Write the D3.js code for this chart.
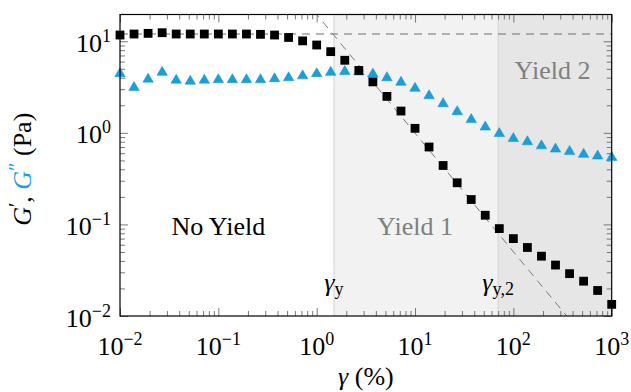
<!DOCTYPE html>
<html>
<head>
<meta charset="utf-8">
<script src="https://cdn.jsdelivr.net/npm/d3@7"></script>
<style>
  html, body { margin: 0; padding: 0; background: #fff; }
  svg { display: block; }
  text { font-family: "Liberation Serif", "Times New Roman", serif; }
</style>
</head>
<body>
<svg id="chart" width="631" height="392"></svg>
<script>
// ---- data ----
const strain = [0.01, 0.01389, 0.01931, 0.02683, 0.03728, 0.05179, 0.07197,
  0.1, 0.1389, 0.1931, 0.2683, 0.3728, 0.5179, 0.7197,
  1, 1.389, 1.931, 2.683, 3.728, 5.179, 7.197,
  10, 13.89, 19.31, 26.83, 37.28, 51.79, 71.97,
  100, 138.9, 193.1, 268.3, 372.8, 517.9, 719.7, 1000];
const storageModulus = [11.7, 12.0, 12.2, 12.4, 12.0, 12.0, 12.0,
  12.0, 12.0, 12.0, 11.9, 11.7, 11.0, 10.1,
  9.1, 7.7, 6.2, 4.8, 3.6, 2.5, 1.73,
  1.12, 0.70, 0.44, 0.285, 0.187, 0.126, 0.090,
  0.070, 0.056, 0.045, 0.036, 0.029, 0.024, 0.019, 0.0134];
const lossModulus = [4.6, 3.25, 4.0, 4.75, 3.9, 3.8, 3.9,
  3.95, 3.95, 3.95, 3.95, 4.05, 4.15, 4.35,
  4.6, 4.75, 4.85, 4.8, 4.55, 4.15, 3.7,
  3.18, 2.64, 2.16, 1.77, 1.45, 1.20, 1.02,
  0.90, 0.83, 0.75, 0.69, 0.65, 0.605, 0.58, 0.56];
const xTickValues = [1e-2, 1e-1, 1e0, 1e1, 1e2, 1e3];
const xTickExponents = ["\u22122", "\u22121", "0", "1", "2", "3"];
const yTickValues = [1e-2, 1e-1, 1e0, 1e1];
const yTickExponents = ["\u22122", "\u22121", "0", "1"];
const plateauModulus = 12;        // horizontal dashed guide (Pa)
const flowPrefactor = 19.6;       // power-law guide G = A * gamma^n
const flowExponent = -1.295;
const yieldStrain1 = 1.5;         // gamma_y (%)
const yieldStrain2 = 70;          // gamma_y,2 (%)
const regionLabels = [
  { text: "No Yield", x: 0.1, y: 0.077, color: "#000" },
  { text: "Yield 1", x: 10, y: 0.077, color: "#808080" },
  { text: "Yield 2", x: 250, y: 3.9, color: "#808080" }
];

// ---- layout ----
const pL = 120, pR = 611.7, pT = 14.5, pB = 316;
const blue = "#1a9fdc";

const svg = d3.select("#chart");
const x = d3.scaleLog().domain([1e-2, 1e3]).range([pL, pR]);
const y = d3.scaleLog().domain([1e-2, 19.6]).range([pB, pT]);

svg.append("defs").append("clipPath").attr("id", "plotclip")
  .append("rect").attr("x", pL).attr("y", pT)
  .attr("width", pR - pL).attr("height", pB - pT);

// shaded yield regions
svg.append("rect").attr("x", x(yieldStrain1)).attr("y", pT)
  .attr("width", x(yieldStrain2) - x(yieldStrain1)).attr("height", pB - pT)
  .attr("fill", "#f2f2f2");
svg.append("rect").attr("x", x(yieldStrain2)).attr("y", pT)
  .attr("width", pR - x(yieldStrain2)).attr("height", pB - pT)
  .attr("fill", "#e6e6e6");
[yieldStrain1, yieldStrain2].forEach(v => {
  svg.append("line").attr("x1", x(v)).attr("x2", x(v)).attr("y1", pT).attr("y2", pB)
    .attr("stroke", "#d2d2d2").attr("stroke-width", 1);
});

// ticks (inside, all four sides)
function minorTicks(domain) {
  const out = [];
  const lo = Math.floor(Math.log10(domain[0]) + 1e-9), hi = Math.ceil(Math.log10(domain[1]));
  for (let e = lo; e < hi; e++) for (let m = 2; m <= 9; m++) {
    const v = m * Math.pow(10, e);
    if (v >= domain[0] && v <= domain[1]) out.push(v);
  }
  return out;
}
const xMinor = minorTicks(x.domain());
const yMinor = minorTicks(y.domain());
const tickStyle = g => {
  g.select(".domain").remove();
  g.selectAll("text").remove();
  g.selectAll("line").attr("stroke", "#6a6a6a").attr("stroke-width", 0.9);
};
const majLen = 8, minLen = 5;
[[xTickValues, majLen], [xMinor, minLen]].forEach(([vals, len]) => {
  svg.append("g").attr("transform", `translate(0,${pB})`)
    .call(d3.axisBottom(x).tickValues(vals).tickSize(-len).tickFormat("")).call(tickStyle);
  svg.append("g").attr("transform", `translate(0,${pT})`)
    .call(d3.axisTop(x).tickValues(vals).tickSize(-len).tickFormat("")).call(tickStyle);
});
[[yTickValues, majLen], [yMinor, minLen]].forEach(([vals, len]) => {
  svg.append("g").attr("transform", `translate(${pL},0)`)
    .call(d3.axisLeft(y).tickValues(vals).tickSize(-len).tickFormat("")).call(tickStyle);
  svg.append("g").attr("transform", `translate(${pR},0)`)
    .call(d3.axisRight(y).tickValues(vals).tickSize(-len).tickFormat("")).call(tickStyle);
});

// guide lines
const guides = svg.append("g").attr("clip-path", "url(#plotclip)");
guides.append("line")
  .attr("x1", pL).attr("x2", pR).attr("y1", y(plateauModulus)).attr("y2", y(plateauModulus))
  .attr("stroke", "#6e6e6e").attr("stroke-width", 1).attr("stroke-dasharray", "8,6");
const gLo = 0.5, gHi = 1000;
guides.append("line")
  .attr("x1", x(gLo)).attr("y1", y(flowPrefactor * Math.pow(gLo, flowExponent)))
  .attr("x2", x(gHi)).attr("y2", y(flowPrefactor * Math.pow(gHi, flowExponent)))
  .attr("stroke", "#6e6e6e").attr("stroke-width", 0.9).attr("stroke-dasharray", "8,6");

// region labels
regionLabels.forEach(r => {
  svg.append("text").attr("x", x(r.x)).attr("y", y(r.y))
    .attr("text-anchor", "middle").attr("font-size", 26).attr("fill", r.color).text(r.text);
});

// gamma_y labels
function gammaLabel(v, sub) {
  const t = svg.append("text").attr("x", x(v)).attr("y", 291)
    .attr("text-anchor", "middle").attr("font-size", 26).attr("fill", "#000");
  t.append("tspan").attr("font-style", "italic").text("\u03b3");
  t.append("tspan").attr("font-size", 18).attr("dy", 4).text(sub);
}
gammaLabel(yieldStrain1, "y");
gammaLabel(yieldStrain2, "y,2");

// data markers
const triSize = 10.5, triH = 9;
const tri = `M0,${-triH / 2} L${triSize / 2},${triH / 2} L${-triSize / 2},${triH / 2} Z`;
svg.append("g").selectAll("path").data(strain.map((s, i) => [s, lossModulus[i]]))
  .join("path")
  .attr("transform", d => `translate(${x(d[0])},${y(d[1])})`)
  .attr("d", tri).attr("fill", blue).attr("stroke", "#1590c6").attr("stroke-width", 0.5);
const sq = 8.8;
svg.append("g").selectAll("rect").data(strain.map((s, i) => [s, storageModulus[i]]))
  .join("rect")
  .attr("x", d => x(d[0]) - sq / 2).attr("y", d => y(d[1]) - sq / 2)
  .attr("width", sq).attr("height", sq).attr("fill", "#000");

// frame
svg.append("rect").attr("x", pL).attr("y", pT).attr("width", pR - pL).attr("height", pB - pT)
  .attr("fill", "none").attr("stroke", "#000").attr("stroke-width", 1.2);

// tick labels
xTickValues.forEach((v, i) => {
  const t = svg.append("text").attr("x", x(v)).attr("y", 355)
    .attr("text-anchor", "middle").attr("font-size", 26);
  t.append("tspan").text("10");
  t.append("tspan").attr("font-size", 18).attr("dy", -10).text(xTickExponents[i]);
});
yTickValues.forEach((v, i) => {
  const t = svg.append("text").attr("x", pL - 9).attr("y", y(v) + 10.5)
    .attr("text-anchor", "end").attr("font-size", 26);
  t.append("tspan").text("10");
  t.append("tspan").attr("font-size", 18).attr("dy", -10).text(yTickExponents[i]);
});

// axis titles
const xt = svg.append("text").attr("x", (pL + pR) / 2).attr("y", 385)
  .attr("text-anchor", "middle").attr("font-size", 26);
xt.append("tspan").attr("font-style", "italic").text("\u03b3");
xt.append("tspan").text(" (%)");

const yt = svg.append("text").attr("transform", `translate(31,${(pT + pB) / 2 + 4}) rotate(-90)`)
  .attr("text-anchor", "middle").attr("font-size", 26);
yt.append("tspan").attr("font-style", "italic").text("G");
yt.append("tspan").attr("font-size", 20).attr("dy", -8).text("\u2032");
yt.append("tspan").attr("dy", 8).text(", ");
yt.append("tspan").attr("font-style", "italic").attr("fill", blue).text("G");
yt.append("tspan").attr("font-size", 20).attr("dy", -8).attr("fill", blue).text("\u2033");
yt.append("tspan").attr("dy", 8).text(" (Pa)");
</script>
</body>
</html>
